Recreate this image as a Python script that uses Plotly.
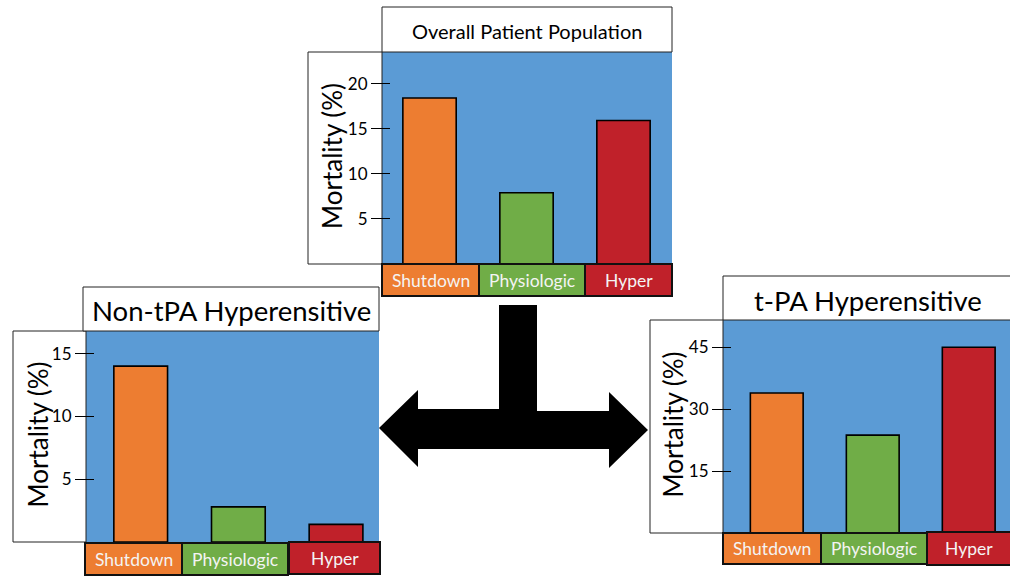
import plotly.graph_objects as go

# ---------------- data ----------------
categories = ["Shutdown", "Physiologic", "Hyper"]
overall_mortality = [18.4, 7.9, 15.9]
non_tpa_mortality = [14.0, 2.8, 1.4]
tpa_mortality = [33.9, 23.7, 45.0]
panel_titles = ["Overall Patient Population", "Non-tPA Hyperensitive", "t-PA Hyperensitive"]
y_title = "Mortality (%)"
overall_ticks = [5, 10, 15, 20]
non_tpa_ticks = [5, 10, 15]
tpa_ticks = [15, 30, 45]

# ---------------- style / layout ----------------
W, H = 1010, 578
BLUE = "#5B9BD5"
CAT_COLORS = ["#ED7D31", "#70AD47", "#C0212A"]
FONT = "Lato"


def px(x):
    return x / W


def py(y):
    return 1 - y / H


panels = [
    dict(values=overall_mortality, ticks=overall_ticks, title=panel_titles[0],
         plot=(382, 672, 52, 264), yrange=[0, 23.5], xrange=[-0.49, 2.5],
         labelbox=308, titlebox=(382, 672, 7, 52), title_size=20, title_pos=(527, 31),
         ytitle_x=332,
         catbox=[(382, 479, 264, 296), (479, 585, 264, 296), (585, 672, 264, 296)]),
    dict(values=non_tpa_mortality, ticks=non_tpa_ticks, title=panel_titles[1],
         plot=(86, 379, 331, 542), yrange=[0, 16.8], xrange=[-0.56, 2.44],
         labelbox=13, titlebox=(83, 379, 287, 331), title_size=27.5, title_pos=(231, 310),
         ytitle_x=37,
         catbox=[(85, 182, 543, 575), (182, 288, 543, 575), (289, 380, 542, 574)]),
    dict(values=tpa_mortality, ticks=tpa_ticks, title=panel_titles[2],
         plot=(723, 1010, 320, 533), yrange=[0, 51.6], xrange=[-0.56, 2.43],
         labelbox=650, titlebox=(723, 1012, 276, 320), title_size=27.5, title_pos=(868, 300),
         ytitle_x=672,
         catbox=[(723, 821, 533, 564), (821, 927, 533, 564), (927, 1012, 532, 565)]),
]

fig = go.Figure()
shapes = []
annotations = []
layout_axes = {}

for i, p in enumerate(panels):
    n = "" if i == 0 else str(i + 1)
    x0, x1, y0, y1 = p["plot"]
    # white axis-label box
    shapes.append(dict(type="rect", xref="paper", yref="paper",
                       x0=px(p["labelbox"]), x1=px(x0), y0=py(y1), y1=py(y0),
                       fillcolor="white", line=dict(color="#222", width=1), layer="below"))
    fig.add_trace(go.Bar(
        x=categories, y=p["values"], xaxis="x" + n, yaxis="y" + n,
        marker=dict(color=CAT_COLORS, line=dict(color="black", width=1.6)),
        width=0.55, showlegend=False, hoverinfo="x+y"))
    layout_axes["xaxis" + n] = dict(domain=[px(x0), min(px(x1), 1.0)], anchor="y" + n,
                                    range=p["xrange"], showticklabels=False,
                                    showgrid=False, zeroline=False, showline=False,
                                    fixedrange=True)
    layout_axes["yaxis" + n] = dict(domain=[py(y1), py(y0)], anchor="free",
                                    position=px(x0 + 8), range=p["yrange"],
                                    tickvals=p["ticks"], ticks="outside", ticklen=19,
                                    tickwidth=1.3, tickcolor="black",
                                    tickfont=dict(family=FONT, size=17, color="black"),
                                    showgrid=False, zeroline=False, showline=False,
                                    fixedrange=True)
    # y-axis title
    annotations.append(dict(text=y_title, xref="paper", yref="paper", textangle=-90,
                            x=px(p["ytitle_x"]), y=py((y0 + y1) / 2 - 2),
                            xanchor="center", yanchor="middle", showarrow=False,
                            font=dict(family=FONT, size=26, color="black")))
    # title box
    tx0, tx1, ty0, ty1 = p["titlebox"]
    shapes.append(dict(type="rect", xref="paper", yref="paper",
                       x0=px(tx0), x1=px(tx1), y0=py(ty1), y1=py(ty0),
                       fillcolor="white", line=dict(color="#222", width=1)))
    annotations.append(dict(text=p["title"], xref="paper", yref="paper",
                            x=px(p["title_pos"][0]), y=py(p["title_pos"][1]),
                            xanchor="center", yanchor="middle", showarrow=False,
                            font=dict(family=FONT, size=p["title_size"], color="black")))
    # category boxes
    for c, (bx0, bx1, by0, by1) in enumerate(p["catbox"]):
        shapes.append(dict(type="rect", xref="paper", yref="paper",
                           x0=px(bx0), x1=px(bx1), y0=py(by1), y1=py(by0),
                           fillcolor=CAT_COLORS[c], line=dict(color="#111", width=2)))
        annotations.append(dict(text=categories[c], xref="paper", yref="paper",
                                x=px((bx0 + min(bx1, 1010)) / 2), y=py((by0 + by1) / 2),
                                xanchor="center", yanchor="middle", showarrow=False,
                                font=dict(family=FONT, size=17.5, color="#F4F4F4")))

# black T-shaped double arrow
arrow_pts = [(379, 428), (418, 390), (418, 409), (499, 409), (499, 305), (537, 305),
             (537, 411), (609, 411), (609, 392), (648, 430), (609, 468), (609, 449),
             (418, 449), (418, 467)]
path = "M " + " L ".join(f"{px(x):.5f},{py(y):.5f}" for x, y in arrow_pts) + " Z"
shapes.append(dict(type="path", xref="paper", yref="paper", path=path,
                   fillcolor="black", line=dict(color="black", width=0)))

fig.update_layout(
    width=W, height=H,
    margin=dict(l=0, r=0, t=0, b=0),
    paper_bgcolor="white", plot_bgcolor=BLUE,
    shapes=shapes, annotations=annotations,
    font=dict(family=FONT),
    **layout_axes,
)

fig.write_html("out.html", config={"displayModeBar": False},
               post_script="document.body.style.margin='0';document.body.style.overflow='hidden';")
